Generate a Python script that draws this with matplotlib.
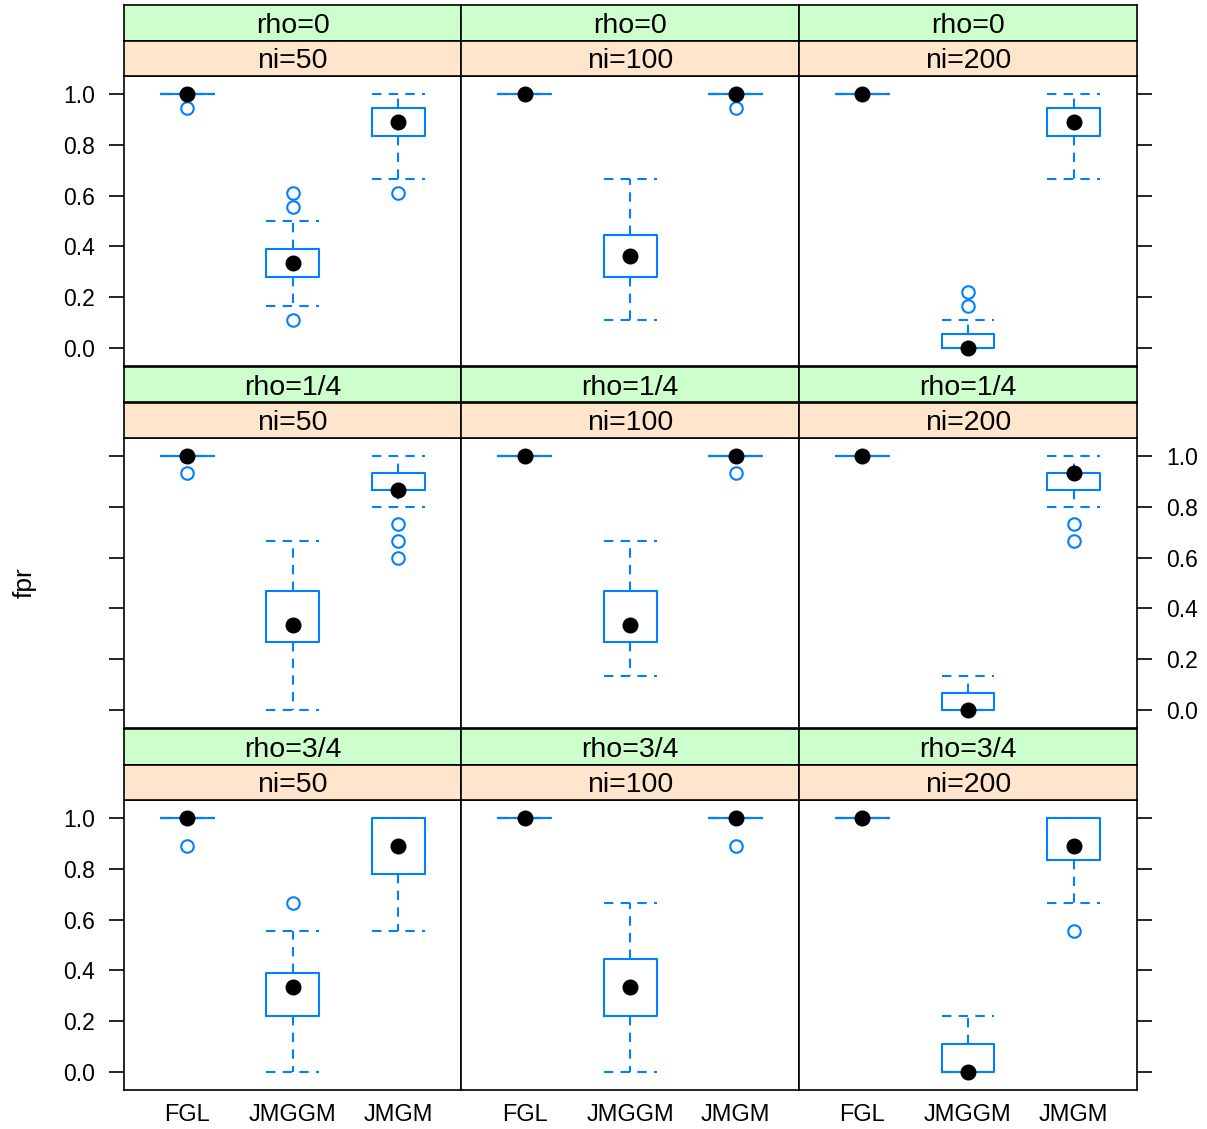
import matplotlib
matplotlib.use('Agg')
import matplotlib.pyplot as plt

plt.rcParams['font.family'] = ['Liberation Sans', 'DejaVu Sans']

methods = ['FGL', 'JMGGM', 'JMGM']
rho_labels = ['rho=0', 'rho=1/4', 'rho=3/4']
ni_labels = ['ni=50', 'ni=100', 'ni=200']

# five-number summaries, indexed [rho][ni][method]
whis_lo = [
    [[1.0, 0.167, 0.667], [1.0, 0.111, 1.0], [1.0, 0.0, 0.667]],
    [[1.0, 0.0, 0.8], [1.0, 0.133, 1.0], [1.0, 0.0, 0.8]],
    [[1.0, 0.0, 0.556], [1.0, 0.0, 1.0], [1.0, 0.0, 0.667]],
]
q1 = [
    [[1.0, 0.278, 0.833], [1.0, 0.278, 1.0], [1.0, 0.0, 0.833]],
    [[1.0, 0.267, 0.867], [1.0, 0.267, 1.0], [1.0, 0.0, 0.867]],
    [[1.0, 0.222, 0.778], [1.0, 0.222, 1.0], [1.0, 0.0, 0.833]],
]
med = [
    [[1.0, 0.333, 0.889], [1.0, 0.361, 1.0], [1.0, 0.0, 0.889]],
    [[1.0, 0.333, 0.867], [1.0, 0.333, 1.0], [1.0, 0.0, 0.933]],
    [[1.0, 0.333, 0.889], [1.0, 0.333, 1.0], [1.0, 0.0, 0.889]],
]
q3 = [
    [[1.0, 0.389, 0.944], [1.0, 0.444, 1.0], [1.0, 0.056, 0.944]],
    [[1.0, 0.467, 0.933], [1.0, 0.467, 1.0], [1.0, 0.067, 0.933]],
    [[1.0, 0.389, 1.0], [1.0, 0.444, 1.0], [1.0, 0.111, 1.0]],
]
whis_hi = [
    [[1.0, 0.5, 1.0], [1.0, 0.667, 1.0], [1.0, 0.111, 1.0]],
    [[1.0, 0.667, 1.0], [1.0, 0.667, 1.0], [1.0, 0.133, 1.0]],
    [[1.0, 0.556, 1.0], [1.0, 0.667, 1.0], [1.0, 0.222, 1.0]],
]
outliers = [
    [[[0.944], [0.611, 0.556, 0.111], [0.611]],
     [[], [], [0.944]],
     [[], [0.222, 0.167], []]],
    [[[0.933], [], [0.733, 0.667, 0.6]],
     [[], [], [0.933]],
     [[], [], [0.733, 0.667]]],
    [[[0.889], [0.667], []],
     [[], [], [0.889]],
     [[], [], [0.556]]],
]

W, H = 1207, 1129
blue = '#0080ff'
dash = (0, (4.5, 3.5))

fig = plt.figure(figsize=(W / 100, H / 100), dpi=100)


def px_axes(x0, y0, x1, y1):
    return fig.add_axes([x0 / W, 1 - y1 / H, (x1 - x0) / W, (y1 - y0) / H])


col_x = [124, 461.5, 799, 1137]
row_top = [76, 438, 800]
panel_h = 290
strip_h = 35.5

for r in range(3):
    for c in range(3):
        x0, x1 = col_x[c], col_x[c + 1]
        y0 = row_top[r]
        ax = px_axes(x0, y0, x1, y0 + panel_h)

        stats = []
        for m in range(3):
            stats.append(dict(med=med[r][c][m], q1=q1[r][c][m], q3=q3[r][c][m],
                              whislo=whis_lo[r][c][m], whishi=whis_hi[r][c][m],
                              fliers=outliers[r][c][m]))
        ax.bxp(stats, positions=[1, 2, 3], widths=0.5, capwidths=0.5,
               boxprops=dict(color=blue, linewidth=1.5),
               whiskerprops=dict(color=blue, linewidth=1.5, linestyle=dash),
               capprops=dict(color=blue, linewidth=1.5, linestyle=dash),
               medianprops=dict(linewidth=0),
               flierprops=dict(marker='o', markerfacecolor='none',
                               markeredgecolor=blue, markersize=9,
                               markeredgewidth=1.5))
        ax.plot([1, 2, 3], med[r][c], 'o', color='black', markersize=10.5,
                zorder=5)

        ax.set_xlim(0.4, 3.6)
        ax.set_ylim(-0.07, 1.07)
        for s in ax.spines.values():
            s.set_linewidth(1.2)

        ax.set_yticks([0, 0.2, 0.4, 0.6, 0.8, 1.0])
        ax.set_yticklabels(['0.0', '0.2', '0.4', '0.6', '0.8', '1.0'])
        ax.tick_params(axis='y', direction='out', length=11, width=1.2,
                       labelsize=16.5, pad=10,
                       left=(c == 0), right=(c == 2),
                       labelleft=(c == 0 and r != 1),
                       labelright=(c == 2 and r == 1))
        if r == 2:
            ax.set_xticks([1, 2, 3])
            ax.set_xticklabels(methods)
            ax.tick_params(axis='x', length=0, labelsize=17, pad=10)
        else:
            ax.set_xticks([])

        # strips: rho on top (green), ni below (orange)
        for k, (lab, col) in enumerate([(rho_labels[r], '#ccffcc'),
                                        (ni_labels[c], '#ffe5cc')]):
            sy0 = y0 - strip_h * (2 - k)
            sax = px_axes(x0, sy0, x1, sy0 + strip_h)
            sax.set_facecolor(col)
            sax.set_xticks([])
            sax.set_yticks([])
            for s in sax.spines.values():
                s.set_linewidth(1.2)
            sax.text(0.5, 0.42, lab, ha='center', va='center', fontsize=20.5,
                     transform=sax.transAxes)

fig.text(25 / W, 1 - 583 / H, 'fpr', rotation=90, ha='center', va='center',
         fontsize=19)

fig.savefig('out.png', dpi=100)
